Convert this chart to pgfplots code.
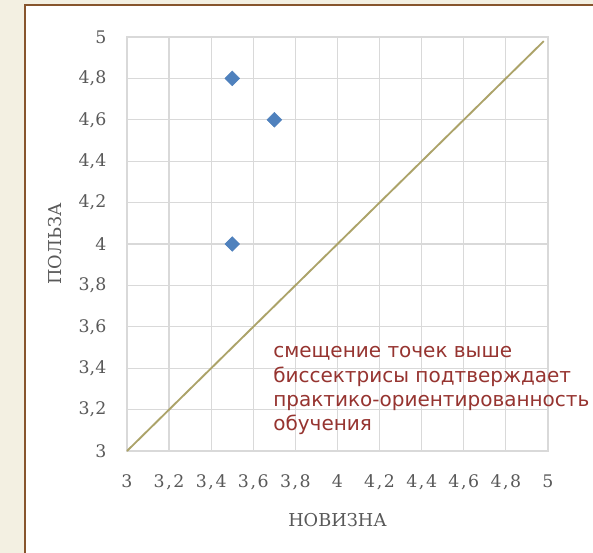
\documentclass[border=0pt]{standalone}
\usepackage{pgfplots}
\pgfplotsset{compat=1.18}
\usepackage{fontspec}
\setmainfont{DejaVu Serif}
\newfontfamily\annfont{DejaVu Sans}
\definecolor{bgcream}{RGB}{243,240,226}
\definecolor{framebrown}{RGB}{135,85,45}
\definecolor{gridgray}{RGB}{217,217,217}
\definecolor{ticktext}{RGB}{89,89,89}
\definecolor{ptblue}{RGB}{79,129,189}
\definecolor{olive}{RGB}{172,163,105}
\definecolor{annred}{RGB}{150,52,48}
\newcommand{\xl}[2]{#1\kern1.2pt,\kern1.2pt#2}
\begin{document}
\begin{tikzpicture}
\useasboundingbox (0pt,0pt) rectangle (444.75pt,414.75pt);
\fill[bgcream] (0pt,0pt) rectangle (444.75pt,414.75pt);
\fill[white] (18.75pt,-8pt) rectangle (452pt,411pt);
\draw[framebrown, line width=2.2pt] (18.75pt,-8pt) -- (18.75pt,411pt) -- (452pt,411pt);
\begin{axis}[
  at={(95.25pt,76.5pt)}, anchor=south west,
  scale only axis, width=315.75pt, height=310.5pt,
  xmin=3, xmax=5, ymin=3, ymax=5,
  xtick={3,3.2,3.4,3.6,3.8,4,4.2,4.4,4.6,4.8,5},
  ytick={3,3.2,3.4,3.6,3.8,4,4.2,4.4,4.6,4.8,5},
  xticklabels={3,\xl32,\xl34,\xl36,\xl38,4,\xl42,\xl44,\xl46,\xl48,5},
  yticklabels={3,{3,2},{3,4},{3,6},{3,8},4,{4,2},{4,4},{4,6},{4,8},5},
  grid=major,
  grid style={gridgray, line width=0.9pt},
  axis line style={gridgray, line width=0.9pt},
  tick style={draw=none},
  ticklabel style={font=\fontsize{13}{15}\selectfont, text=ticktext},
  yticklabel style={xshift=-12pt},
  xticklabel style={yshift=-14pt},
  xlabel={НОВИЗНА}, ylabel={ПОЛЬЗА},
  label style={font=\fontsize{13.3}{15}\selectfont, text=ticktext},
  xlabel style={yshift=-11pt},
  ylabel style={yshift=6pt},
  clip=false,
]
\addplot[olive, line width=1.4pt, no markers] coordinates {(3,3) (4.98,4.98)};
\addplot[only marks, mark=square*, mark size=3.9pt, mark options={rotate=45, fill=ptblue, draw=ptblue}] coordinates {(3.5,4.8) (3.7,4.6) (3.5,4.0)};
\end{axis}
\node[anchor=north west, align=left, text=annred, font=\annfont\fontsize{15}{18.3}\selectfont, inner sep=0pt] at (204.75pt,155pt) {смещение точек выше\\биссектрисы подтверждает\\практико-ориентированность\\обучения};
\end{tikzpicture}
\end{document}
